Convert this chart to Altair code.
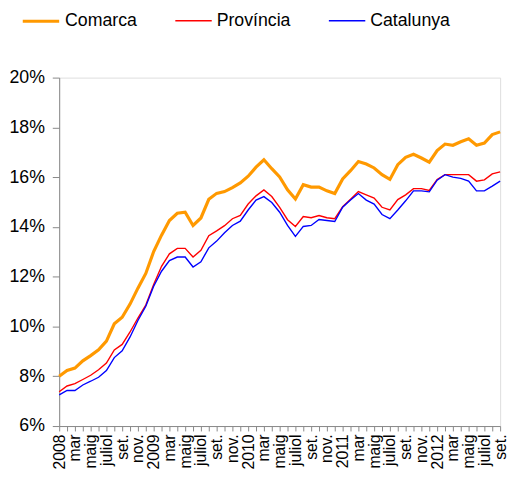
import altair as alt
import pandas as pd

series_names = ["Comarca", "Província", "Catalunya"]
series_colors = ["#FF9900", "#FF0000", "#0000FF"]
series_widths = [3.2, 1.4, 1.4]

years = ["2008", "2009", "2010", "2011", "2012"]
month_labels = ["", "", "mar", "", "maig", "", "juliol", "", "set.", "", "nov.", ""]

comarca = [8.0, 8.23, 8.33, 8.62, 8.83, 9.06, 9.41, 10.11, 10.37, 10.9, 11.54, 12.13,
           13.01, 13.67, 14.26, 14.55, 14.59, 14.06, 14.36, 15.11, 15.35, 15.42, 15.58, 15.77,
           16.04, 16.4, 16.7, 16.34, 16.01, 15.49, 15.12, 15.7, 15.6, 15.6, 15.45, 15.34,
           15.93, 16.26, 16.63, 16.53, 16.37, 16.1, 15.91, 16.5, 16.8, 16.92, 16.77, 16.6,
           17.07, 17.33, 17.28, 17.42, 17.54, 17.28, 17.37, 17.71, 17.82]
provincia = [7.38, 7.61, 7.7, 7.87, 8.04, 8.26, 8.53, 9.06, 9.28, 9.78, 10.34, 10.86,
             11.69, 12.42, 12.92, 13.14, 13.14, 12.79, 13.06, 13.65, 13.84, 14.05, 14.33, 14.46,
             14.92, 15.25, 15.49, 15.22, 14.79, 14.29, 14.02, 14.42, 14.37, 14.46, 14.37, 14.33,
             14.81, 15.11, 15.42, 15.29, 15.16, 14.79, 14.68, 15.1, 15.29, 15.54, 15.54, 15.47,
             15.91, 16.1, 16.1, 16.1, 16.1, 15.84, 15.89, 16.13, 16.21]
catalunya = [7.25, 7.43, 7.43, 7.65, 7.8, 7.96, 8.23, 8.75, 9.02, 9.58, 10.24, 10.81,
             11.62, 12.22, 12.65, 12.79, 12.79, 12.39, 12.6, 13.16, 13.43, 13.77, 14.06, 14.23,
             14.68, 15.08, 15.22, 14.98, 14.59, 14.06, 13.62, 14.02, 14.06, 14.3, 14.26, 14.22,
             14.79, 15.08, 15.34, 15.08, 14.92, 14.5, 14.33, 14.68, 15.05, 15.45, 15.45, 15.41,
             15.88, 16.1, 16.0, 15.95, 15.84, 15.45, 15.45, 15.64, 15.84]

y_ticks = [6, 8, 10, 12, 14, 16, 18, 20]

n = len(comarca)
tick_labels = []
for i in range(n):
    m = i % 12
    tick_labels.append(years[i // 12] if m == 0 else month_labels[m])

rows = []
for name, vals in zip(series_names, [comarca, provincia, catalunya]):
    for i, v in enumerate(vals):
        rows.append({"idx": i, "serie": name, "valor": v})
df = pd.DataFrame(rows)

label_expr = "[" + ",".join("'" + t + "'" for t in tick_labels) + "][datum.value]"
FONT = "Liberation Sans"

chart = alt.Chart(df).mark_line().encode(
    x=alt.X("idx:Q",
            scale=alt.Scale(domain=[0, n - 1], nice=False, zero=False),
            axis=alt.Axis(values=list(range(n)), labelExpr=label_expr, labelAngle=270,
                          labelAlign="right", labelBaseline="middle", tickSize=5,
                          labelPadding=3, grid=False, title=None, labelOverlap=False,
                          labelFlush=False, labelFontSize=16)),
    y=alt.Y("valor:Q",
            scale=alt.Scale(domain=[6, 20], nice=False, zero=False),
            axis=alt.Axis(values=y_ticks, labelExpr="datum.value + '%'", tickSize=7,
                          labelPadding=8, grid=False, title=None, labelFontSize=18)),
    color=alt.Color("serie:N",
                    scale=alt.Scale(domain=series_names, range=series_colors),
                    legend=alt.Legend(title=None, orient="none", direction="horizontal",
                                      legendX=-39, legendY=-78, symbolType="stroke",
                                      symbolSize=1369, symbolStrokeWidth=2.5,
                                      labelFontSize=18, labelFont=FONT, labelColor="black",
                                      labelOffset=4, columnPadding=35, padding=0)),
    strokeWidth=alt.StrokeWidth("serie:N",
                                scale=alt.Scale(type="ordinal", domain=series_names,
                                                range=series_widths),
                                legend=None),
    order=alt.Order("serie:N", sort="ascending"),
).properties(
    width=448, height=354,
    padding={"left": 52, "top": 67, "right": 8, "bottom": 45},
    autosize=alt.AutoSizeParams(type="none"),
).configure_view(stroke=None).configure_axis(
    domainColor="#7f7f7f", tickColor="#7f7f7f", labelColor="black", labelFont=FONT,
    domainWidth=1.2, tickWidth=1,
).configure(background="white")

chart.save("out.html", embed_options={"renderer": "svg", "actions": False})
